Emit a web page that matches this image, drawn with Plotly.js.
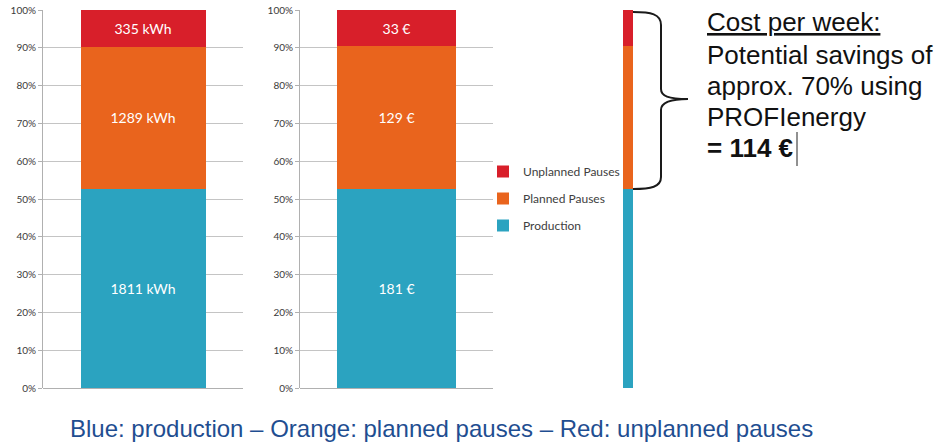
<!DOCTYPE html>
<html>
<head>
<meta charset="utf-8">
<script src="https://cdn.plot.ly/plotly-3.0.1.min.js"></script>
<style>
html,body{margin:0;padding:0;background:#fff;}
#chart{width:947px;height:442px;}
</style>
</head>
<body>
<div id="chart"></div>
<script>
// ---- data ----
const seriesNames = ['Production', 'Planned Pauses', 'Unplanned Pauses'];
const energyKWh = [1811, 1289, 335];
const costEUR = [181, 129, 33];
const energyCategory = ['Energy'];
const costCategory = ['Cost'];
const tickValues = [0, 10, 20, 30, 40, 50, 60, 70, 80, 90, 100];
const tickLabels = ['0%', '10%', '20%', '30%', '40%', '50%', '60%', '70%', '80%', '90%', '100%'];
const noteLines = ['Cost per week:', 'Potential savings of', 'approx. 70% using', 'PROFIenergy', '= 114 €'];
const captionText = 'Blue: production – Orange: planned pauses – Red: unplanned pauses';

// ---- styling ----
const W = 947, H = 442;
const colors = ['#2ba3c0', '#e9641d', '#d81f2a'];
const px = x => x / W;
const py = y => 1 - y / H;

const traces = [];
seriesNames.forEach((name, i) => {
  traces.push({
    type: 'bar', name: name, x: energyCategory, y: [energyKWh[i]],
    xaxis: 'x', yaxis: 'y', width: 0.625,
    marker: {color: colors[i], line: {width: 0}},
    text: [energyKWh[i] + ' kWh'], textposition: 'inside', insidetextanchor: 'middle',
    textangle: 0, constraintext: 'none',
    insidetextfont: {family: 'Lato, sans-serif', size: 14, color: '#ffffff'},
    legendgroup: name, legendrank: seriesNames.length - i, showlegend: true, hoverinfo: 'none'
  });
});
seriesNames.forEach((name, i) => {
  traces.push({
    type: 'bar', name: name, x: costCategory, y: [costEUR[i]],
    xaxis: 'x2', yaxis: 'y2', width: 0.62,
    marker: {color: colors[i], line: {width: 0}},
    text: [costEUR[i] + ' €'], textposition: 'inside', insidetextanchor: 'middle',
    textangle: 0, constraintext: 'none',
    insidetextfont: {family: 'Lato, sans-serif', size: 14, color: '#ffffff'},
    legendgroup: name, showlegend: false, hoverinfo: 'none'
  });
});
seriesNames.forEach((name, i) => {
  traces.push({
    type: 'bar', name: name, x: costCategory, y: [costEUR[i]],
    xaxis: 'x3', yaxis: 'y3', width: 1,
    marker: {color: colors[i], line: {width: 0}},
    textposition: 'none',
    legendgroup: name, showlegend: false, hoverinfo: 'none'
  });
});

const yDomain = [py(388), py(10)];
const yAxisBase = {
  domain: yDomain, range: [0, 100], tickmode: 'array', tickvals: tickValues, ticktext: tickLabels,
  showgrid: true, gridcolor: '#c4c4c4', gridwidth: 1,
  zeroline: true, zerolinecolor: '#b0b0b0', zerolinewidth: 1,
  showline: true, linecolor: '#b0b0b0', linewidth: 1,
  ticks: 'outside', ticklen: 4, tickcolor: '#b0b0b0',
  tickfont: {family: 'Lato, sans-serif', size: 10, color: '#3a3a3a'},
  fixedrange: true
};
const xAxisBase = {
  range: [-0.5, 0.5], showticklabels: false, showgrid: false, zeroline: false,
  showline: false, ticks: '', fixedrange: true
};

const bracePath =
  'M' + px(633) + ',' + py(12) +
  ' C' + px(651) + ',' + py(12) + ' ' + px(661) + ',' + py(14) + ' ' + px(661) + ',' + py(25) +
  ' L' + px(661) + ',' + py(89) +
  ' C' + px(661) + ',' + py(96) + ' ' + px(668) + ',' + py(99) + ' ' + px(688) + ',' + py(99) +
  ' C' + px(668) + ',' + py(99) + ' ' + px(661) + ',' + py(103) + ' ' + px(661) + ',' + py(110) +
  ' L' + px(661) + ',' + py(177) +
  ' C' + px(661) + ',' + py(187) + ' ' + px(651) + ',' + py(189) + ' ' + px(633) + ',' + py(189);

const noteY = [22, 55, 86, 117, 148];
const annotations = noteLines.map((t, i) => ({
  xref: 'paper', yref: 'paper', x: px(705), y: py(noteY[i]),
  xanchor: 'left', yanchor: 'middle', showarrow: false,
  text: i === noteLines.length - 1 ? '<b>' + t + '</b>' : t,
  font: Object.assign({family: '"Liberation Sans", Arial, sans-serif', size: 26, color: '#111111'},
    i === 0 ? {lineposition: 'under'} : {})
}));
annotations.push({
  xref: 'paper', yref: 'paper', x: px(441), y: py(428),
  xanchor: 'center', yanchor: 'middle', showarrow: false,
  text: captionText,
  font: {family: '"Liberation Sans", Arial, sans-serif', size: 24, color: '#1f4e91'}
});

const layout = {
  width: W, height: H,
  margin: {l: 0, r: 0, t: 0, b: 0},
  paper_bgcolor: '#ffffff', plot_bgcolor: 'rgba(0,0,0,0)',
  barmode: 'stack', barnorm: 'percent', bargap: 0,
  showlegend: true,
  legend: {
    x: px(483), y: py(157), xanchor: 'left', yanchor: 'top',
    traceorder: 'grouped', tracegroupgap: 8,
    font: {family: 'Lato, sans-serif', size: 12, color: '#404040'},
    bgcolor: 'rgba(0,0,0,0)', borderwidth: 0
  },
  xaxis: Object.assign({}, xAxisBase, {domain: [px(43), px(243)], anchor: 'y'}),
  yaxis: Object.assign({}, yAxisBase, {anchor: 'x'}),
  xaxis2: Object.assign({}, xAxisBase, {domain: [px(300), px(493)], anchor: 'y2'}),
  yaxis2: Object.assign({}, yAxisBase, {anchor: 'x2'}),
  xaxis3: Object.assign({}, xAxisBase, {domain: [px(623), px(633)], anchor: 'y3'}),
  yaxis3: {domain: yDomain, range: [0, 100], anchor: 'x3', visible: false, fixedrange: true},
  shapes: [
    {type: 'path', xref: 'paper', yref: 'paper', path: bracePath,
     line: {color: '#1a1a1a', width: 2}},
    {type: 'line', xref: 'paper', yref: 'paper', x0: px(797), x1: px(797), y0: py(132), y1: py(166),
     line: {color: '#222222', width: 1}}
  ],
  annotations: annotations
};

Plotly.newPlot('chart', traces, layout, {displayModeBar: false, staticPlot: true});
</script>
</body>
</html>
